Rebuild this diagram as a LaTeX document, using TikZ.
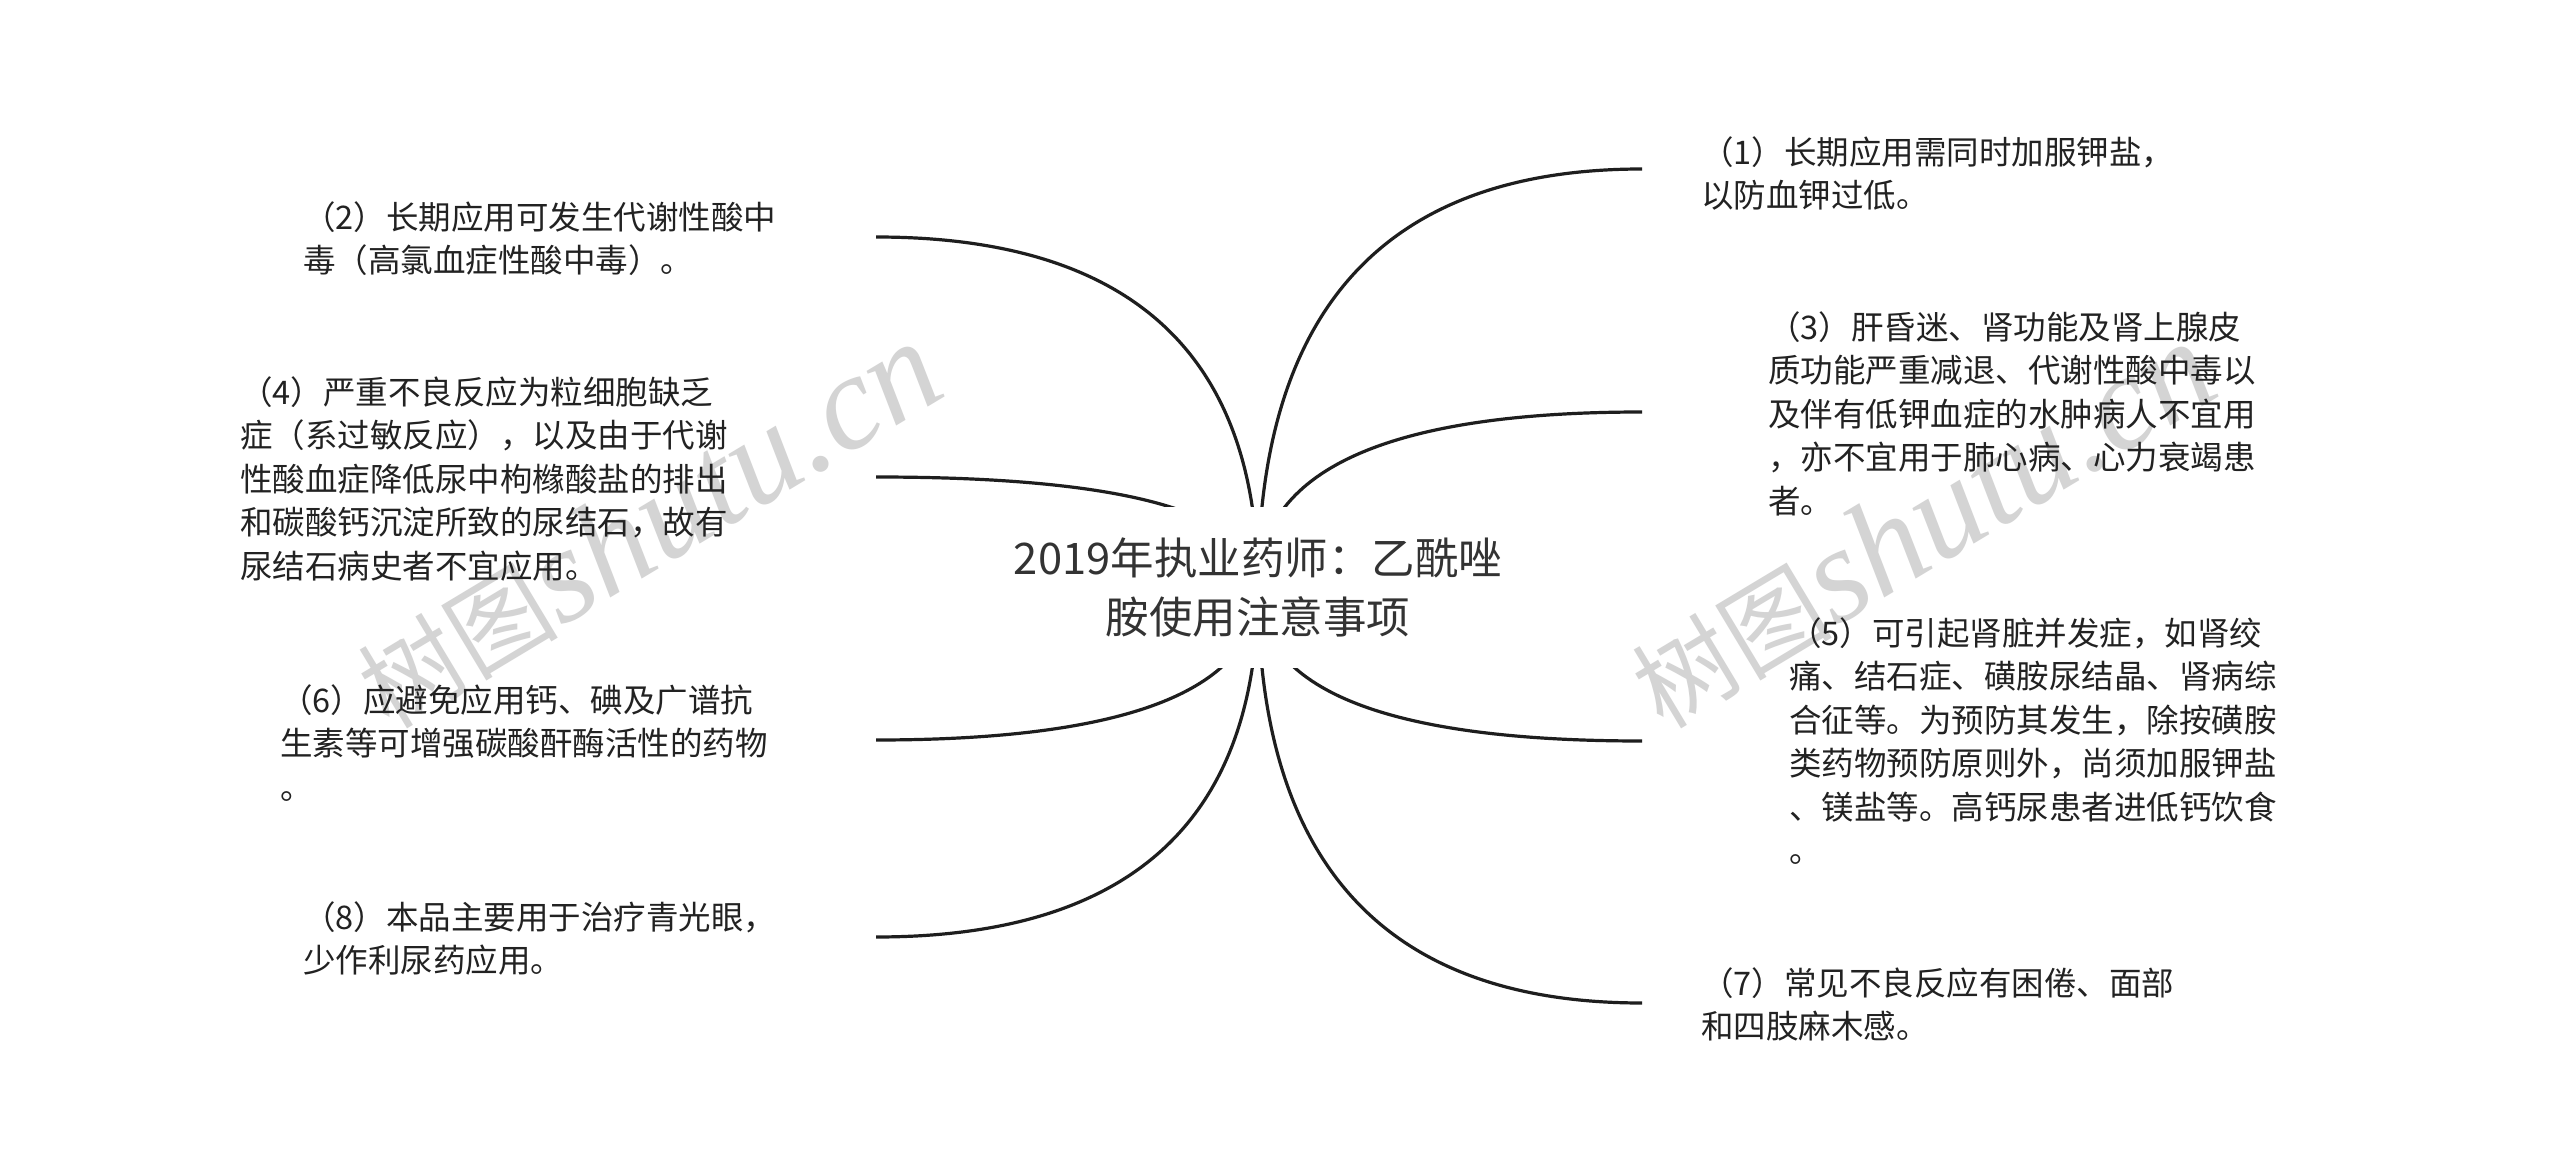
\documentclass[tikz,border=0pt]{standalone}
\usepackage{fontspec}
\setmainfont{Noto Sans CJK SC}
\newfontfamily\wmcjk{Noto Sans CJK SC}
\newfontfamily\wmlat{Liberation Serif}
\usetikzlibrary{calc,backgrounds}
\definecolor{leaftxt}{HTML}{222222}
\definecolor{roottxt}{HTML}{333333}
\definecolor{branch}{HTML}{1E1E1E}
\definecolor{wmgray}{HTML}{D4D4D4}
\tikzset{
  leaf/.style={anchor=base west, inner sep=0pt, align=left, text=leaftxt,
    font=\fontsize{32.5}{43.5}\selectfont},
  rootnode/.style={fill=white, inner sep=0pt, minimum width=540pt,
    minimum height=161pt, align=center, text=roottxt,
    font=\fontsize{43.5}{59}\selectfont},
  branchline/.style={draw=branch, line width=3.2pt},
  watermark/.style={text=wmgray, rotate=31, inner sep=0pt},
}
\begin{document}
\begin{tikzpicture}[x=1pt,y=-1pt]
\useasboundingbox (0,0) rectangle (2560,1174);
% root
\node[rootnode] (root) at (1258,587.5) {2019年执业药师：乙酰唑\\胺使用注意事项};
% branch ends
\coordinate (e1) at (1642,169);
\coordinate (e2) at (876,237);
\coordinate (e3) at (1642,412);
\coordinate (e4) at (876,477);
\coordinate (e5) at (1642,741);
\coordinate (e6) at (876,740);
\coordinate (e7) at (1642,1003);
\coordinate (e8) at (876,937);
% leaves (anchor = baseline of the last line)
\node[leaf] (n1) at (1701,207.9) {（1）长期应用需同时加服钾盐，\\以防血钾过低。};
\node[leaf] (n2) at (303,272.9) {（2）长期应用可发生代谢性酸中\\毒（高氯血症性酸中毒）。};
\node[leaf] (n3) at (1768,513.4) {（3）肝昏迷、肾功能及肾上腺皮\\质功能严重减退、代谢性酸中毒以\\及伴有低钾血症的水肿病人不宜用\\，亦不宜用于肺心病、心力衰竭患\\者。};
\node[leaf] (n4) at (240,578.4) {（4）严重不良反应为粒细胞缺乏\\症（系过敏反应），以及由于代谢\\性酸血症降低尿中枸橼酸盐的排出\\和碳酸钙沉淀所致的尿结石，故有\\尿结石病史者不宜应用。};
\node[leaf] (n5) at (1789,862.9) {（5）可引起肾脏并发症，如肾绞\\痛、结石症、磺胺尿结晶、肾病综\\合征等。为预防其发生，除按磺胺\\类药物预防原则外，尚须加服钾盐\\、镁盐等。高钙尿患者进低钙饮食\\。};
\node[leaf] (n6) at (280,799.4) {（6）应避免应用钙、碘及广谱抗\\生素等可增强碳酸酐酶活性的药物\\。};
\node[leaf] (n7) at (1701,1038.9) {（7）常见不良反应有困倦、面部\\和四肢麻木感。};
\node[leaf] (n8) at (303,972.9) {（8）本品主要用于治疗青光眼，\\少作利尿药应用。};
\begin{pgfonlayer}{background}
  \fill[white] (0,0) rectangle (2560,1174);
  \node[watermark] (wm1) at (648,525) {{\fontsize{100}{100}\wmcjk 树图}{\fontsize{135}{135}\wmlat\itshape shutu.cn}};
  \node[watermark] (wm2) at (1922,525) {{\fontsize{100}{100}\wmcjk 树图}{\fontsize{135}{135}\wmlat\itshape shutu.cn}};
  \foreach \e in {e1,e2,e3,e4,e5,e6,e7,e8}{
    \draw[branchline] (root.center) .. controls ($(root.center)!0.6667!(root.center|-\e)$)
      and ($(\e)!0.6667!(root.center|-\e)$) .. (\e);
  }
\end{pgfonlayer}
\end{tikzpicture}
\end{document}
